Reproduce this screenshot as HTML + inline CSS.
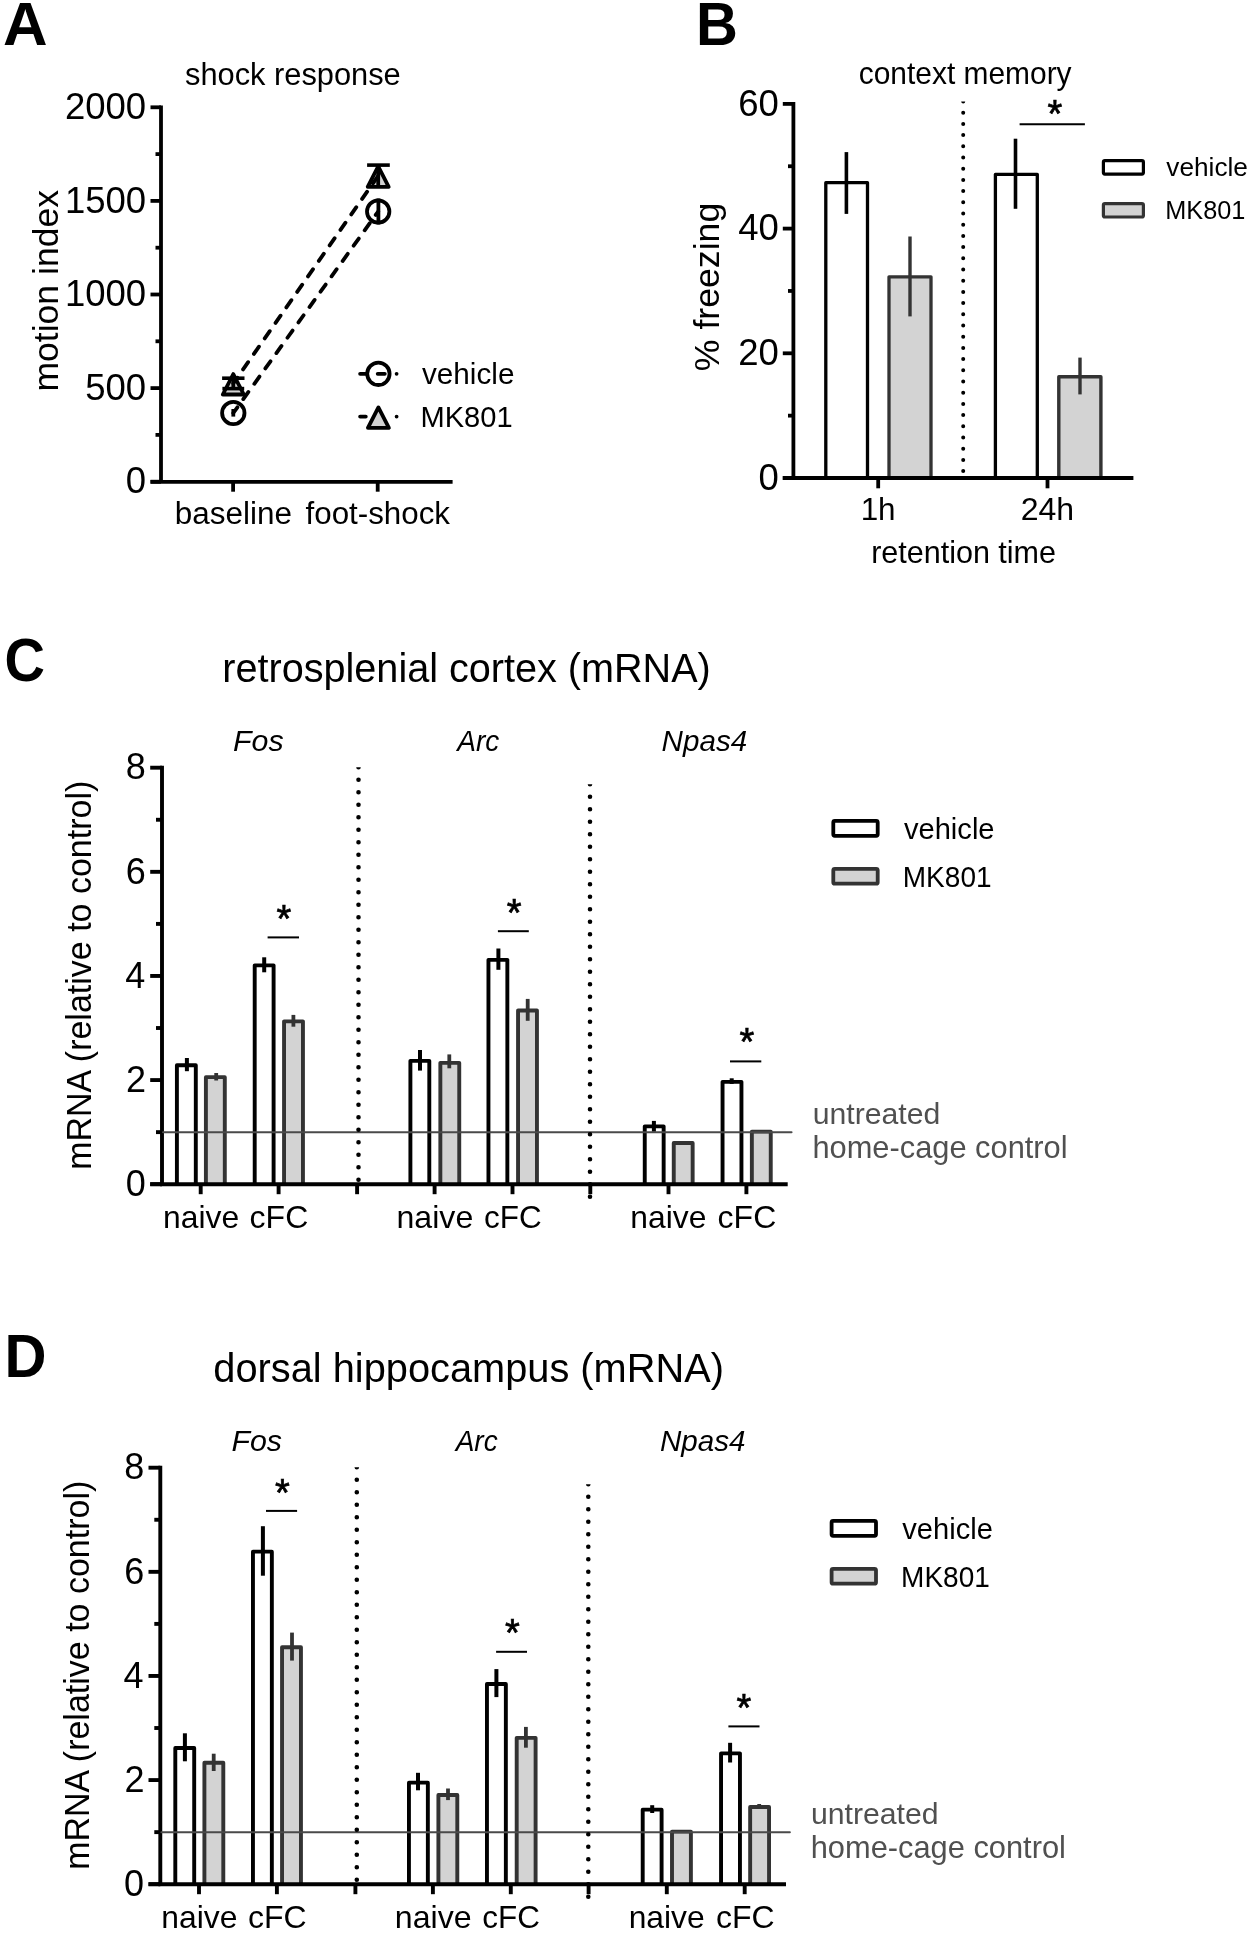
<!DOCTYPE html>
<html><head><meta charset="utf-8"><title>Figure</title>
<style>html,body{margin:0;padding:0;background:#fff;} svg{display:block;filter:grayscale(1);}</style></head>
<body><svg width="1250" height="1933" viewBox="0 0 1250 1933">
<rect width="1250" height="1933" fill="#fff"/>
<text x="2.96" y="44.80" style="font-family:'Liberation Sans',sans-serif;font-weight:bold;font-size:60.5px" fill="#000" textLength="44.62" lengthAdjust="spacingAndGlyphs">A</text>
<text x="185.05" y="85.00" style="font-family:'Liberation Sans',sans-serif;font-size:30.8px" fill="#000" textLength="215.60" lengthAdjust="spacingAndGlyphs">shock response</text>
<line x1="161.00" y1="105.40" x2="161.00" y2="481.70" stroke="#000" stroke-width="3.8" stroke-linecap="butt"/>
<line x1="150.50" y1="107.30" x2="161.00" y2="107.30" stroke="#000" stroke-width="3.8" stroke-linecap="butt"/>
<line x1="150.50" y1="200.90" x2="161.00" y2="200.90" stroke="#000" stroke-width="3.8" stroke-linecap="butt"/>
<line x1="150.50" y1="294.50" x2="161.00" y2="294.50" stroke="#000" stroke-width="3.8" stroke-linecap="butt"/>
<line x1="150.50" y1="388.10" x2="161.00" y2="388.10" stroke="#000" stroke-width="3.8" stroke-linecap="butt"/>
<line x1="150.50" y1="481.70" x2="161.00" y2="481.70" stroke="#000" stroke-width="3.8" stroke-linecap="butt"/>
<line x1="155.50" y1="154.10" x2="161.00" y2="154.10" stroke="#000" stroke-width="3.8" stroke-linecap="butt"/>
<line x1="155.50" y1="247.70" x2="161.00" y2="247.70" stroke="#000" stroke-width="3.8" stroke-linecap="butt"/>
<line x1="155.50" y1="341.30" x2="161.00" y2="341.30" stroke="#000" stroke-width="3.8" stroke-linecap="butt"/>
<line x1="155.50" y1="434.90" x2="161.00" y2="434.90" stroke="#000" stroke-width="3.8" stroke-linecap="butt"/>
<line x1="150.50" y1="481.90" x2="452.60" y2="481.90" stroke="#000" stroke-width="3.8" stroke-linecap="butt"/>
<line x1="233.10" y1="481.90" x2="233.10" y2="491.70" stroke="#000" stroke-width="3.8" stroke-linecap="butt"/>
<line x1="377.70" y1="481.90" x2="377.70" y2="491.70" stroke="#000" stroke-width="3.8" stroke-linecap="butt"/>
<text x="64.95" y="118.90" style="font-family:'Liberation Sans',sans-serif;font-size:36.5px" fill="#000">2000</text>
<text x="64.95" y="212.50" style="font-family:'Liberation Sans',sans-serif;font-size:36.5px" fill="#000">1500</text>
<text x="64.95" y="306.10" style="font-family:'Liberation Sans',sans-serif;font-size:36.5px" fill="#000">1000</text>
<text x="85.20" y="399.70" style="font-family:'Liberation Sans',sans-serif;font-size:36.5px" fill="#000">500</text>
<text x="125.81" y="493.30" style="font-family:'Liberation Sans',sans-serif;font-size:36.5px" fill="#000">0</text>
<text transform="translate(57.90,391.50) rotate(-90)" x="0" y="0" style="font-family:'Liberation Sans',sans-serif;font-size:35.5px" fill="#000" textLength="201.45" lengthAdjust="spacingAndGlyphs">motion index</text>
<text x="174.76" y="523.80" style="font-family:'Liberation Sans',sans-serif;font-size:31px" fill="#000" textLength="117.19" lengthAdjust="spacingAndGlyphs">baseline</text>
<text x="305.53" y="523.80" style="font-family:'Liberation Sans',sans-serif;font-size:31px" fill="#000" textLength="144.50" lengthAdjust="spacingAndGlyphs">foot-shock</text>
<path d="M233.30,374.10 L243.80,394.50 L222.80,394.50 Z" fill="#d3d3d3" stroke="#000" stroke-width="3.8" stroke-linejoin="round"/>
<path d="M378.20,166.40 L388.70,186.80 L367.70,186.80 Z" fill="#d3d3d3" stroke="#000" stroke-width="3.8" stroke-linejoin="round"/>
<line x1="233.30" y1="413.00" x2="378.20" y2="211.50" stroke="#000" stroke-width="3.8" stroke-linecap="round" stroke-dasharray="8.8 10.1" stroke-dashoffset="1.8"/>
<line x1="233.30" y1="383.40" x2="377.70" y2="176.60" stroke="#000" stroke-width="3.8" stroke-linecap="round" stroke-dasharray="8.8 10.1" stroke-dashoffset="1.8"/>
<circle cx="233.30" cy="413.00" r="11.2" fill="none" stroke="#000" stroke-width="3.8"/>
<circle cx="378.20" cy="211.50" r="11.2" fill="none" stroke="#000" stroke-width="3.8"/>
<line x1="233.30" y1="409.00" x2="233.30" y2="416.60" stroke="#000" stroke-width="3.8" stroke-linecap="butt"/>
<line x1="378.40" y1="198.50" x2="378.40" y2="224.50" stroke="#000" stroke-width="3.8" stroke-linecap="butt"/>
<line x1="233.30" y1="378.20" x2="233.30" y2="388.60" stroke="#000" stroke-width="3.8" stroke-linecap="butt"/>
<line x1="222.10" y1="378.20" x2="244.50" y2="378.20" stroke="#000" stroke-width="3.6" stroke-linecap="butt"/>
<line x1="222.40" y1="388.60" x2="244.20" y2="388.60" stroke="#000" stroke-width="3.6" stroke-linecap="butt"/>
<line x1="378.20" y1="165.10" x2="378.20" y2="186.00" stroke="#000" stroke-width="3.8" stroke-linecap="butt"/>
<line x1="367.10" y1="165.10" x2="389.80" y2="165.10" stroke="#000" stroke-width="3.6" stroke-linecap="butt"/>
<line x1="360.10" y1="373.80" x2="396.70" y2="373.80" stroke="#000" stroke-width="3.8" stroke-linecap="round" stroke-dasharray="5.7 11.9 7.1 11.8 0.01 50"/>
<circle cx="378.40" cy="373.80" r="11.2" fill="none" stroke="#000" stroke-width="3.8"/>
<line x1="360.10" y1="416.60" x2="396.70" y2="416.60" stroke="#000" stroke-width="3.8" stroke-linecap="round" stroke-dasharray="5.7 30.8 0.01 50"/>
<path d="M378.40,407.40 L388.90,427.80 L367.90,427.80 Z" fill="#d3d3d3" stroke="#000" stroke-width="3.8" stroke-linejoin="round"/>
<text x="421.95" y="383.70" style="font-family:'Liberation Sans',sans-serif;font-size:30px" fill="#000" textLength="92.52" lengthAdjust="spacingAndGlyphs">vehicle</text>
<text x="420.40" y="426.80" style="font-family:'Liberation Sans',sans-serif;font-size:30px" fill="#000" textLength="92.21" lengthAdjust="spacingAndGlyphs">MK801</text>
<text x="696.08" y="44.80" style="font-family:'Liberation Sans',sans-serif;font-weight:bold;font-size:60.5px" fill="#000" textLength="41.91" lengthAdjust="spacingAndGlyphs">B</text>
<text x="858.73" y="83.50" style="font-family:'Liberation Sans',sans-serif;font-size:30.5px" fill="#000" textLength="212.87" lengthAdjust="spacingAndGlyphs">context memory</text>
<path d="M825.80,478.00 L825.80,182.70 L867.50,182.70 L867.50,478.00" fill="#fff" stroke="#000" stroke-width="3.3" stroke-linejoin="round"/>
<path d="M889.00,478.00 L889.00,276.80 L931.00,276.80 L931.00,478.00" fill="#d3d3d3" stroke="#333" stroke-width="3.3" stroke-linejoin="round"/>
<path d="M995.40,478.00 L995.40,174.30 L1037.30,174.30 L1037.30,478.00" fill="#fff" stroke="#000" stroke-width="3.3" stroke-linejoin="round"/>
<path d="M1058.80,478.00 L1058.80,376.80 L1100.90,376.80 L1100.90,478.00" fill="#d3d3d3" stroke="#333" stroke-width="3.4" stroke-linejoin="round"/>
<line x1="793.40" y1="102.00" x2="793.40" y2="478.00" stroke="#000" stroke-width="3.8" stroke-linecap="butt"/>
<line x1="782.80" y1="478.00" x2="793.40" y2="478.00" stroke="#000" stroke-width="3.8" stroke-linecap="butt"/>
<line x1="782.80" y1="353.30" x2="793.40" y2="353.30" stroke="#000" stroke-width="3.8" stroke-linecap="butt"/>
<line x1="782.80" y1="228.60" x2="793.40" y2="228.60" stroke="#000" stroke-width="3.8" stroke-linecap="butt"/>
<line x1="782.80" y1="103.90" x2="793.40" y2="103.90" stroke="#000" stroke-width="3.8" stroke-linecap="butt"/>
<line x1="788.00" y1="415.65" x2="793.40" y2="415.65" stroke="#000" stroke-width="3.8" stroke-linecap="butt"/>
<line x1="788.00" y1="290.95" x2="793.40" y2="290.95" stroke="#000" stroke-width="3.8" stroke-linecap="butt"/>
<line x1="788.00" y1="166.25" x2="793.40" y2="166.25" stroke="#000" stroke-width="3.8" stroke-linecap="butt"/>
<line x1="782.80" y1="478.00" x2="1133.40" y2="478.00" stroke="#000" stroke-width="3.8" stroke-linecap="butt"/>
<line x1="878.20" y1="478.00" x2="878.20" y2="488.30" stroke="#000" stroke-width="3.8" stroke-linecap="butt"/>
<line x1="1047.50" y1="478.00" x2="1047.50" y2="488.30" stroke="#000" stroke-width="3.8" stroke-linecap="butt"/>
<text x="758.51" y="489.80" style="font-family:'Liberation Sans',sans-serif;font-size:36.5px" fill="#000">0</text>
<text x="738.25" y="365.10" style="font-family:'Liberation Sans',sans-serif;font-size:36.5px" fill="#000">20</text>
<text x="738.25" y="240.40" style="font-family:'Liberation Sans',sans-serif;font-size:36.5px" fill="#000">40</text>
<text x="738.25" y="115.70" style="font-family:'Liberation Sans',sans-serif;font-size:36.5px" fill="#000">60</text>
<line x1="846.40" y1="152.10" x2="846.40" y2="213.90" stroke="#000" stroke-width="3.6" stroke-linecap="butt"/>
<line x1="910.00" y1="236.50" x2="910.00" y2="316.40" stroke="#333" stroke-width="3.4" stroke-linecap="butt"/>
<line x1="1015.50" y1="138.70" x2="1015.50" y2="208.80" stroke="#000" stroke-width="3.6" stroke-linecap="butt"/>
<line x1="1080.00" y1="357.60" x2="1080.00" y2="394.40" stroke="#333" stroke-width="3.4" stroke-linecap="butt"/>
<clipPath id="cb"><rect x="958.2" y="101.50" width="10" height="376.50"/></clipPath>
<line x1="963.20" y1="101.50" x2="963.20" y2="473.00" stroke="#000" stroke-width="4.0" stroke-linecap="round" stroke-dasharray="0 11.2" clip-path="url(#cb)"/>
<line x1="1019.60" y1="124.30" x2="1084.90" y2="124.30" stroke="#000" stroke-width="2" stroke-linecap="butt"/>
<text x="1047.59" y="127.12" style="font-family:'Liberation Sans',sans-serif;font-size:38px" fill="#000" stroke="#000" stroke-width="0.7">*</text>
<rect x="1103.4" y="160.7" width="40" height="13.4" rx="1.5" fill="#fff" stroke="#000" stroke-width="3.2"/>
<rect x="1103.4" y="203.6" width="40" height="13.4" rx="1.5" fill="#d3d3d3" stroke="#333" stroke-width="3.2"/>
<text x="1166.37" y="176.40" style="font-family:'Liberation Sans',sans-serif;font-size:26px" fill="#000" textLength="81.55" lengthAdjust="spacingAndGlyphs">vehicle</text>
<text x="1165.31" y="219.20" style="font-family:'Liberation Sans',sans-serif;font-size:26px" fill="#000" textLength="80.11" lengthAdjust="spacingAndGlyphs">MK801</text>
<text x="860.64" y="520.30" style="font-family:'Liberation Sans',sans-serif;font-size:31.5px" fill="#000" textLength="34.98" lengthAdjust="spacingAndGlyphs">1h</text>
<text x="1020.70" y="520.30" style="font-family:'Liberation Sans',sans-serif;font-size:31.5px" fill="#000" textLength="53.41" lengthAdjust="spacingAndGlyphs">24h</text>
<text x="871.14" y="562.60" style="font-family:'Liberation Sans',sans-serif;font-size:30.5px" fill="#000" textLength="184.90" lengthAdjust="spacingAndGlyphs">retention time</text>
<text transform="translate(719.00,371.25) rotate(-90)" x="0" y="0" style="font-family:'Liberation Sans',sans-serif;font-size:35.5px" fill="#000" textLength="168.56" lengthAdjust="spacingAndGlyphs">% freezing</text>
<text x="4.46" y="681.20" style="font-family:'Liberation Sans',sans-serif;font-weight:bold;font-size:60.5px" fill="#000" textLength="40.46" lengthAdjust="spacingAndGlyphs">C</text>
<text x="222.33" y="682.00" style="font-family:'Liberation Sans',sans-serif;font-size:40px" fill="#000" textLength="488.42" lengthAdjust="spacingAndGlyphs">retrosplenial cortex (mRNA)</text>
<line x1="162.00" y1="765.75" x2="162.00" y2="1184.20" stroke="#000" stroke-width="3.9" stroke-linecap="butt"/>
<line x1="150.20" y1="1184.20" x2="162.00" y2="1184.20" stroke="#000" stroke-width="3.9" stroke-linecap="butt"/>
<line x1="150.20" y1="1080.08" x2="162.00" y2="1080.08" stroke="#000" stroke-width="3.9" stroke-linecap="butt"/>
<line x1="150.20" y1="975.95" x2="162.00" y2="975.95" stroke="#000" stroke-width="3.9" stroke-linecap="butt"/>
<line x1="150.20" y1="871.83" x2="162.00" y2="871.83" stroke="#000" stroke-width="3.9" stroke-linecap="butt"/>
<line x1="150.20" y1="767.70" x2="162.00" y2="767.70" stroke="#000" stroke-width="3.9" stroke-linecap="butt"/>
<line x1="156.00" y1="1132.14" x2="162.00" y2="1132.14" stroke="#000" stroke-width="3.9" stroke-linecap="butt"/>
<line x1="156.00" y1="1028.01" x2="162.00" y2="1028.01" stroke="#000" stroke-width="3.9" stroke-linecap="butt"/>
<line x1="156.00" y1="923.89" x2="162.00" y2="923.89" stroke="#000" stroke-width="3.9" stroke-linecap="butt"/>
<line x1="156.00" y1="819.76" x2="162.00" y2="819.76" stroke="#000" stroke-width="3.9" stroke-linecap="butt"/>
<text x="125.67" y="1195.90" style="font-family:'Liberation Sans',sans-serif;font-size:36px" fill="#000">0</text>
<text x="126.12" y="1091.78" style="font-family:'Liberation Sans',sans-serif;font-size:36px" fill="#000">2</text>
<text x="125.31" y="987.65" style="font-family:'Liberation Sans',sans-serif;font-size:36px" fill="#000">4</text>
<text x="125.85" y="883.53" style="font-family:'Liberation Sans',sans-serif;font-size:36px" fill="#000">6</text>
<text x="125.85" y="779.40" style="font-family:'Liberation Sans',sans-serif;font-size:36px" fill="#000">8</text>
<path d="M176.90,1184.20 L176.90,1065.25 L195.80,1065.25 L195.80,1184.20" fill="#fff" stroke="#000" stroke-width="3.9" stroke-linejoin="round"/>
<path d="M205.90,1184.20 L205.90,1077.15 L224.80,1077.15 L224.80,1184.20" fill="#d3d3d3" stroke="#333" stroke-width="3.9" stroke-linejoin="round"/>
<path d="M254.70,1184.20 L254.70,965.35 L273.60,965.35 L273.60,1184.20" fill="#fff" stroke="#000" stroke-width="3.9" stroke-linejoin="round"/>
<path d="M284.05,1184.20 L284.05,1021.35 L302.95,1021.35 L302.95,1184.20" fill="#d3d3d3" stroke="#333" stroke-width="3.9" stroke-linejoin="round"/>
<path d="M410.40,1184.20 L410.40,1060.85 L429.30,1060.85 L429.30,1184.20" fill="#fff" stroke="#000" stroke-width="3.9" stroke-linejoin="round"/>
<path d="M440.35,1184.20 L440.35,1062.85 L459.25,1062.85 L459.25,1184.20" fill="#d3d3d3" stroke="#333" stroke-width="3.9" stroke-linejoin="round"/>
<path d="M488.45,1184.20 L488.45,959.85 L507.35,959.85 L507.35,1184.20" fill="#fff" stroke="#000" stroke-width="3.9" stroke-linejoin="round"/>
<path d="M518.05,1184.20 L518.05,1010.45 L536.95,1010.45 L536.95,1184.20" fill="#d3d3d3" stroke="#333" stroke-width="3.9" stroke-linejoin="round"/>
<path d="M644.75,1184.20 L644.75,1126.35 L663.65,1126.35 L663.65,1184.20" fill="#fff" stroke="#000" stroke-width="3.9" stroke-linejoin="round"/>
<path d="M673.75,1184.20 L673.75,1143.05 L692.65,1143.05 L692.65,1184.20" fill="#d3d3d3" stroke="#333" stroke-width="3.9" stroke-linejoin="round"/>
<path d="M722.55,1184.20 L722.55,1081.85 L741.45,1081.85 L741.45,1184.20" fill="#fff" stroke="#000" stroke-width="3.9" stroke-linejoin="round"/>
<path d="M751.85,1184.20 L751.85,1131.65 L770.75,1131.65 L770.75,1184.20" fill="#d3d3d3" stroke="#333" stroke-width="3.9" stroke-linejoin="round"/>
<line x1="163.00" y1="1132.30" x2="791.60" y2="1132.30" stroke="#4a4a4a" stroke-width="1.9" stroke-linecap="round"/>
<line x1="186.90" y1="1058.00" x2="186.90" y2="1071.20" stroke="#000" stroke-width="4" stroke-linecap="butt"/>
<line x1="216.20" y1="1073.00" x2="216.20" y2="1080.50" stroke="#333" stroke-width="3.8" stroke-linecap="butt"/>
<line x1="264.20" y1="957.30" x2="264.20" y2="972.30" stroke="#000" stroke-width="4" stroke-linecap="butt"/>
<line x1="293.40" y1="1014.90" x2="293.40" y2="1026.70" stroke="#333" stroke-width="3.8" stroke-linecap="butt"/>
<line x1="420.00" y1="1050.00" x2="420.00" y2="1070.60" stroke="#000" stroke-width="4" stroke-linecap="butt"/>
<line x1="449.30" y1="1054.40" x2="449.30" y2="1068.30" stroke="#333" stroke-width="3.8" stroke-linecap="butt"/>
<line x1="498.40" y1="948.50" x2="498.40" y2="969.80" stroke="#000" stroke-width="4" stroke-linecap="butt"/>
<line x1="527.70" y1="998.90" x2="527.70" y2="1020.80" stroke="#333" stroke-width="3.8" stroke-linecap="butt"/>
<line x1="653.90" y1="1120.90" x2="653.90" y2="1131.40" stroke="#000" stroke-width="4" stroke-linecap="butt"/>
<line x1="731.70" y1="1078.30" x2="731.70" y2="1083.90" stroke="#000" stroke-width="4" stroke-linecap="butt"/>
<line x1="160.05" y1="1184.20" x2="787.70" y2="1184.20" stroke="#000" stroke-width="3.9" stroke-linecap="butt"/>
<line x1="150.20" y1="1184.20" x2="162.00" y2="1184.20" stroke="#000" stroke-width="3.9" stroke-linecap="butt"/>
<line x1="200.70" y1="1184.20" x2="200.70" y2="1194.20" stroke="#000" stroke-width="3.9" stroke-linecap="butt"/>
<line x1="278.60" y1="1184.20" x2="278.60" y2="1194.20" stroke="#000" stroke-width="3.9" stroke-linecap="butt"/>
<line x1="357.10" y1="1184.20" x2="357.10" y2="1194.20" stroke="#000" stroke-width="3.9" stroke-linecap="butt"/>
<line x1="434.60" y1="1184.20" x2="434.60" y2="1194.20" stroke="#000" stroke-width="3.9" stroke-linecap="butt"/>
<line x1="512.50" y1="1184.20" x2="512.50" y2="1194.20" stroke="#000" stroke-width="3.9" stroke-linecap="butt"/>
<line x1="590.30" y1="1184.20" x2="590.30" y2="1194.20" stroke="#000" stroke-width="3.9" stroke-linecap="butt"/>
<line x1="668.50" y1="1184.20" x2="668.50" y2="1194.20" stroke="#000" stroke-width="3.9" stroke-linecap="butt"/>
<line x1="746.40" y1="1184.20" x2="746.40" y2="1194.20" stroke="#000" stroke-width="3.9" stroke-linecap="butt"/>
<clipPath id="cc1"><rect x="353.5" y="767.20" width="10" height="418.80"/></clipPath>
<line x1="358.50" y1="767.20" x2="358.50" y2="1181.00" stroke="#000" stroke-width="4.6" stroke-linecap="round" stroke-dasharray="0 12.5" clip-path="url(#cc1)"/>
<clipPath id="cc2"><rect x="585" y="784.30" width="10" height="418.20"/></clipPath>
<line x1="590.00" y1="784.30" x2="590.00" y2="1197.50" stroke="#000" stroke-width="4.6" stroke-linecap="round" stroke-dasharray="0 12.5" clip-path="url(#cc2)"/>
<text x="276.59" y="932.42" style="font-family:'Liberation Sans',sans-serif;font-size:38px" fill="#000" stroke="#000" stroke-width="0.7">*</text>
<text x="506.79" y="926.42" style="font-family:'Liberation Sans',sans-serif;font-size:38px" fill="#000" stroke="#000" stroke-width="0.7">*</text>
<text x="739.39" y="1054.62" style="font-family:'Liberation Sans',sans-serif;font-size:38px" fill="#000" stroke="#000" stroke-width="0.7">*</text>
<line x1="267.60" y1="937.40" x2="299.00" y2="937.40" stroke="#000" stroke-width="2" stroke-linecap="butt"/>
<line x1="497.90" y1="931.20" x2="528.80" y2="931.20" stroke="#000" stroke-width="2" stroke-linecap="butt"/>
<line x1="730.00" y1="1061.40" x2="761.30" y2="1061.40" stroke="#000" stroke-width="2" stroke-linecap="butt"/>
<rect x="833.30" y="820.90" width="44.4" height="14.9" rx="1.5" fill="#fff" stroke="#000" stroke-width="3.8"/>
<rect x="833.30" y="868.80" width="44.4" height="14.9" rx="1.5" fill="#d3d3d3" stroke="#333" stroke-width="3.8"/>
<text x="903.95" y="838.80" style="font-family:'Liberation Sans',sans-serif;font-size:29.5px" fill="#000" textLength="90.59" lengthAdjust="spacingAndGlyphs">vehicle</text>
<text x="902.79" y="886.60" style="font-family:'Liberation Sans',sans-serif;font-size:29.5px" fill="#000" textLength="88.77" lengthAdjust="spacingAndGlyphs">MK801</text>
<text x="812.64" y="1123.60" style="font-family:'Liberation Sans',sans-serif;font-size:30.2px" fill="#505050" textLength="127.67" lengthAdjust="spacingAndGlyphs">untreated</text>
<text x="812.44" y="1158.30" style="font-family:'Liberation Sans',sans-serif;font-size:30.5px" fill="#505050" textLength="255.13" lengthAdjust="spacingAndGlyphs">home-cage control</text>
<text x="233.09" y="751.40" style="font-family:'Liberation Sans',sans-serif;font-style:italic;font-size:30.3px" fill="#000" textLength="50.50" lengthAdjust="spacingAndGlyphs">Fos</text>
<text x="457.33" y="751.40" style="font-family:'Liberation Sans',sans-serif;font-style:italic;font-size:30.3px" fill="#000" textLength="42.02" lengthAdjust="spacingAndGlyphs">Arc</text>
<text x="661.61" y="751.40" style="font-family:'Liberation Sans',sans-serif;font-style:italic;font-size:30.3px" fill="#000" textLength="85.52" lengthAdjust="spacingAndGlyphs">Npas4</text>
<text transform="translate(91.00,1169.84) rotate(-90)" x="0" y="0" style="font-family:'Liberation Sans',sans-serif;font-size:34.5px" fill="#000" textLength="389.14" lengthAdjust="spacingAndGlyphs">mRNA (relative to control)</text>
<text x="163.05" y="1228.00" style="font-family:'Liberation Sans',sans-serif;font-size:31.5px" fill="#000" textLength="76.13" lengthAdjust="spacingAndGlyphs">naive</text>
<text x="396.53" y="1228.00" style="font-family:'Liberation Sans',sans-serif;font-size:31.5px" fill="#000" textLength="76.75" lengthAdjust="spacingAndGlyphs">naive</text>
<text x="630.35" y="1228.00" style="font-family:'Liberation Sans',sans-serif;font-size:31.5px" fill="#000" textLength="76.02" lengthAdjust="spacingAndGlyphs">naive</text>
<text x="249.64" y="1228.00" style="font-family:'Liberation Sans',sans-serif;font-size:31.5px" fill="#000" textLength="58.66" lengthAdjust="spacingAndGlyphs">cFC</text>
<text x="484.06" y="1228.00" style="font-family:'Liberation Sans',sans-serif;font-size:31.5px" fill="#000" textLength="57.61" lengthAdjust="spacingAndGlyphs">cFC</text>
<text x="717.64" y="1228.00" style="font-family:'Liberation Sans',sans-serif;font-size:31.5px" fill="#000" textLength="58.66" lengthAdjust="spacingAndGlyphs">cFC</text>
<text x="4.48" y="1376.80" style="font-family:'Liberation Sans',sans-serif;font-weight:bold;font-size:60.5px" fill="#000" textLength="41.98" lengthAdjust="spacingAndGlyphs">D</text>
<text x="213.31" y="1382.00" style="font-family:'Liberation Sans',sans-serif;font-size:40px" fill="#000" textLength="510.70" lengthAdjust="spacingAndGlyphs">dorsal hippocampus (mRNA)</text>
<line x1="160.30" y1="1465.75" x2="160.30" y2="1884.20" stroke="#000" stroke-width="3.9" stroke-linecap="butt"/>
<line x1="148.50" y1="1884.20" x2="160.30" y2="1884.20" stroke="#000" stroke-width="3.9" stroke-linecap="butt"/>
<line x1="148.50" y1="1780.08" x2="160.30" y2="1780.08" stroke="#000" stroke-width="3.9" stroke-linecap="butt"/>
<line x1="148.50" y1="1675.95" x2="160.30" y2="1675.95" stroke="#000" stroke-width="3.9" stroke-linecap="butt"/>
<line x1="148.50" y1="1571.83" x2="160.30" y2="1571.83" stroke="#000" stroke-width="3.9" stroke-linecap="butt"/>
<line x1="148.50" y1="1467.70" x2="160.30" y2="1467.70" stroke="#000" stroke-width="3.9" stroke-linecap="butt"/>
<line x1="154.30" y1="1832.14" x2="160.30" y2="1832.14" stroke="#000" stroke-width="3.9" stroke-linecap="butt"/>
<line x1="154.30" y1="1728.01" x2="160.30" y2="1728.01" stroke="#000" stroke-width="3.9" stroke-linecap="butt"/>
<line x1="154.30" y1="1623.89" x2="160.30" y2="1623.89" stroke="#000" stroke-width="3.9" stroke-linecap="butt"/>
<line x1="154.30" y1="1519.76" x2="160.30" y2="1519.76" stroke="#000" stroke-width="3.9" stroke-linecap="butt"/>
<text x="123.97" y="1895.90" style="font-family:'Liberation Sans',sans-serif;font-size:36px" fill="#000">0</text>
<text x="124.42" y="1791.78" style="font-family:'Liberation Sans',sans-serif;font-size:36px" fill="#000">2</text>
<text x="123.61" y="1687.65" style="font-family:'Liberation Sans',sans-serif;font-size:36px" fill="#000">4</text>
<text x="124.15" y="1583.53" style="font-family:'Liberation Sans',sans-serif;font-size:36px" fill="#000">6</text>
<text x="124.15" y="1479.40" style="font-family:'Liberation Sans',sans-serif;font-size:36px" fill="#000">8</text>
<path d="M175.30,1884.20 L175.30,1747.95 L194.20,1747.95 L194.20,1884.20" fill="#fff" stroke="#000" stroke-width="3.9" stroke-linejoin="round"/>
<path d="M204.40,1884.20 L204.40,1762.75 L223.30,1762.75 L223.30,1884.20" fill="#d3d3d3" stroke="#333" stroke-width="3.9" stroke-linejoin="round"/>
<path d="M252.95,1884.20 L252.95,1551.65 L271.85,1551.65 L271.85,1884.20" fill="#fff" stroke="#000" stroke-width="3.9" stroke-linejoin="round"/>
<path d="M282.05,1884.20 L282.05,1647.25 L300.95,1647.25 L300.95,1884.20" fill="#d3d3d3" stroke="#333" stroke-width="3.9" stroke-linejoin="round"/>
<path d="M408.95,1884.20 L408.95,1782.65 L427.85,1782.65 L427.85,1884.20" fill="#fff" stroke="#000" stroke-width="3.9" stroke-linejoin="round"/>
<path d="M438.40,1884.20 L438.40,1794.95 L457.30,1794.95 L457.30,1884.20" fill="#d3d3d3" stroke="#333" stroke-width="3.9" stroke-linejoin="round"/>
<path d="M486.95,1884.20 L486.95,1684.05 L505.85,1684.05 L505.85,1884.20" fill="#fff" stroke="#000" stroke-width="3.9" stroke-linejoin="round"/>
<path d="M516.70,1884.20 L516.70,1737.85 L535.60,1737.85 L535.60,1884.20" fill="#d3d3d3" stroke="#333" stroke-width="3.9" stroke-linejoin="round"/>
<path d="M642.70,1884.20 L642.70,1809.65 L661.60,1809.65 L661.60,1884.20" fill="#fff" stroke="#000" stroke-width="3.9" stroke-linejoin="round"/>
<path d="M672.00,1884.20 L672.00,1831.65 L690.90,1831.65 L690.90,1884.20" fill="#d3d3d3" stroke="#333" stroke-width="3.9" stroke-linejoin="round"/>
<path d="M721.05,1884.20 L721.05,1753.35 L739.95,1753.35 L739.95,1884.20" fill="#fff" stroke="#000" stroke-width="3.9" stroke-linejoin="round"/>
<path d="M750.15,1884.20 L750.15,1807.05 L769.05,1807.05 L769.05,1884.20" fill="#d3d3d3" stroke="#333" stroke-width="3.9" stroke-linejoin="round"/>
<line x1="161.30" y1="1832.30" x2="789.90" y2="1832.30" stroke="#4a4a4a" stroke-width="1.9" stroke-linecap="round"/>
<line x1="184.90" y1="1733.30" x2="184.90" y2="1761.30" stroke="#000" stroke-width="4" stroke-linecap="butt"/>
<line x1="213.70" y1="1753.70" x2="213.70" y2="1771.00" stroke="#333" stroke-width="3.8" stroke-linecap="butt"/>
<line x1="262.90" y1="1526.20" x2="262.90" y2="1575.70" stroke="#000" stroke-width="4" stroke-linecap="butt"/>
<line x1="292.00" y1="1632.60" x2="292.00" y2="1660.60" stroke="#333" stroke-width="3.8" stroke-linecap="butt"/>
<line x1="418.00" y1="1772.80" x2="418.00" y2="1790.30" stroke="#000" stroke-width="4" stroke-linecap="butt"/>
<line x1="448.00" y1="1788.50" x2="448.00" y2="1800.10" stroke="#333" stroke-width="3.8" stroke-linecap="butt"/>
<line x1="496.40" y1="1669.10" x2="496.40" y2="1697.10" stroke="#000" stroke-width="4" stroke-linecap="butt"/>
<line x1="525.90" y1="1726.90" x2="525.90" y2="1747.70" stroke="#333" stroke-width="3.8" stroke-linecap="butt"/>
<line x1="652.20" y1="1805.20" x2="652.20" y2="1813.00" stroke="#000" stroke-width="4" stroke-linecap="butt"/>
<line x1="730.10" y1="1742.80" x2="730.10" y2="1762.50" stroke="#000" stroke-width="4" stroke-linecap="butt"/>
<line x1="759.20" y1="1804.00" x2="759.20" y2="1807.50" stroke="#333" stroke-width="3.8" stroke-linecap="butt"/>
<line x1="158.35" y1="1884.20" x2="786.00" y2="1884.20" stroke="#000" stroke-width="3.9" stroke-linecap="butt"/>
<line x1="148.50" y1="1884.20" x2="160.30" y2="1884.20" stroke="#000" stroke-width="3.9" stroke-linecap="butt"/>
<line x1="199.00" y1="1884.20" x2="199.00" y2="1894.20" stroke="#000" stroke-width="3.9" stroke-linecap="butt"/>
<line x1="276.90" y1="1884.20" x2="276.90" y2="1894.20" stroke="#000" stroke-width="3.9" stroke-linecap="butt"/>
<line x1="355.40" y1="1884.20" x2="355.40" y2="1894.20" stroke="#000" stroke-width="3.9" stroke-linecap="butt"/>
<line x1="432.90" y1="1884.20" x2="432.90" y2="1894.20" stroke="#000" stroke-width="3.9" stroke-linecap="butt"/>
<line x1="510.80" y1="1884.20" x2="510.80" y2="1894.20" stroke="#000" stroke-width="3.9" stroke-linecap="butt"/>
<line x1="588.60" y1="1884.20" x2="588.60" y2="1894.20" stroke="#000" stroke-width="3.9" stroke-linecap="butt"/>
<line x1="666.80" y1="1884.20" x2="666.80" y2="1894.20" stroke="#000" stroke-width="3.9" stroke-linecap="butt"/>
<line x1="744.70" y1="1884.20" x2="744.70" y2="1894.20" stroke="#000" stroke-width="3.9" stroke-linecap="butt"/>
<clipPath id="cd1"><rect x="351.8" y="1467.20" width="10" height="418.80"/></clipPath>
<line x1="356.80" y1="1467.20" x2="356.80" y2="1881.00" stroke="#000" stroke-width="4.6" stroke-linecap="round" stroke-dasharray="0 12.5" clip-path="url(#cd1)"/>
<clipPath id="cd2"><rect x="583.3" y="1484.30" width="10" height="418.20"/></clipPath>
<line x1="588.30" y1="1484.30" x2="588.30" y2="1897.50" stroke="#000" stroke-width="4.6" stroke-linecap="round" stroke-dasharray="0 12.5" clip-path="url(#cd2)"/>
<text x="274.89" y="1505.62" style="font-family:'Liberation Sans',sans-serif;font-size:38px" fill="#000" stroke="#000" stroke-width="0.7">*</text>
<text x="504.89" y="1645.53" style="font-family:'Liberation Sans',sans-serif;font-size:38px" fill="#000" stroke="#000" stroke-width="0.7">*</text>
<text x="736.59" y="1721.12" style="font-family:'Liberation Sans',sans-serif;font-size:38px" fill="#000" stroke="#000" stroke-width="0.7">*</text>
<line x1="266.00" y1="1510.90" x2="297.10" y2="1510.90" stroke="#000" stroke-width="2" stroke-linecap="butt"/>
<line x1="496.10" y1="1651.80" x2="527.00" y2="1651.80" stroke="#000" stroke-width="2" stroke-linecap="butt"/>
<line x1="728.40" y1="1726.40" x2="759.50" y2="1726.40" stroke="#000" stroke-width="2" stroke-linecap="butt"/>
<rect x="831.60" y="1520.90" width="44.4" height="14.9" rx="1.5" fill="#fff" stroke="#000" stroke-width="3.8"/>
<rect x="831.60" y="1568.80" width="44.4" height="14.9" rx="1.5" fill="#d3d3d3" stroke="#333" stroke-width="3.8"/>
<text x="902.25" y="1538.80" style="font-family:'Liberation Sans',sans-serif;font-size:29.5px" fill="#000" textLength="90.59" lengthAdjust="spacingAndGlyphs">vehicle</text>
<text x="901.09" y="1586.60" style="font-family:'Liberation Sans',sans-serif;font-size:29.5px" fill="#000" textLength="88.77" lengthAdjust="spacingAndGlyphs">MK801</text>
<text x="810.94" y="1823.60" style="font-family:'Liberation Sans',sans-serif;font-size:30.2px" fill="#505050" textLength="127.67" lengthAdjust="spacingAndGlyphs">untreated</text>
<text x="810.74" y="1858.30" style="font-family:'Liberation Sans',sans-serif;font-size:30.5px" fill="#505050" textLength="255.13" lengthAdjust="spacingAndGlyphs">home-cage control</text>
<text x="231.39" y="1451.40" style="font-family:'Liberation Sans',sans-serif;font-style:italic;font-size:30.3px" fill="#000" textLength="50.50" lengthAdjust="spacingAndGlyphs">Fos</text>
<text x="455.63" y="1451.40" style="font-family:'Liberation Sans',sans-serif;font-style:italic;font-size:30.3px" fill="#000" textLength="42.02" lengthAdjust="spacingAndGlyphs">Arc</text>
<text x="659.91" y="1451.40" style="font-family:'Liberation Sans',sans-serif;font-style:italic;font-size:30.3px" fill="#000" textLength="85.52" lengthAdjust="spacingAndGlyphs">Npas4</text>
<text transform="translate(89.30,1869.84) rotate(-90)" x="0" y="0" style="font-family:'Liberation Sans',sans-serif;font-size:34.5px" fill="#000" textLength="389.14" lengthAdjust="spacingAndGlyphs">mRNA (relative to control)</text>
<text x="161.35" y="1928.00" style="font-family:'Liberation Sans',sans-serif;font-size:31.5px" fill="#000" textLength="76.13" lengthAdjust="spacingAndGlyphs">naive</text>
<text x="394.83" y="1928.00" style="font-family:'Liberation Sans',sans-serif;font-size:31.5px" fill="#000" textLength="76.75" lengthAdjust="spacingAndGlyphs">naive</text>
<text x="628.65" y="1928.00" style="font-family:'Liberation Sans',sans-serif;font-size:31.5px" fill="#000" textLength="76.02" lengthAdjust="spacingAndGlyphs">naive</text>
<text x="247.94" y="1928.00" style="font-family:'Liberation Sans',sans-serif;font-size:31.5px" fill="#000" textLength="58.66" lengthAdjust="spacingAndGlyphs">cFC</text>
<text x="482.36" y="1928.00" style="font-family:'Liberation Sans',sans-serif;font-size:31.5px" fill="#000" textLength="57.61" lengthAdjust="spacingAndGlyphs">cFC</text>
<text x="715.94" y="1928.00" style="font-family:'Liberation Sans',sans-serif;font-size:31.5px" fill="#000" textLength="58.66" lengthAdjust="spacingAndGlyphs">cFC</text>
</svg></body></html>
